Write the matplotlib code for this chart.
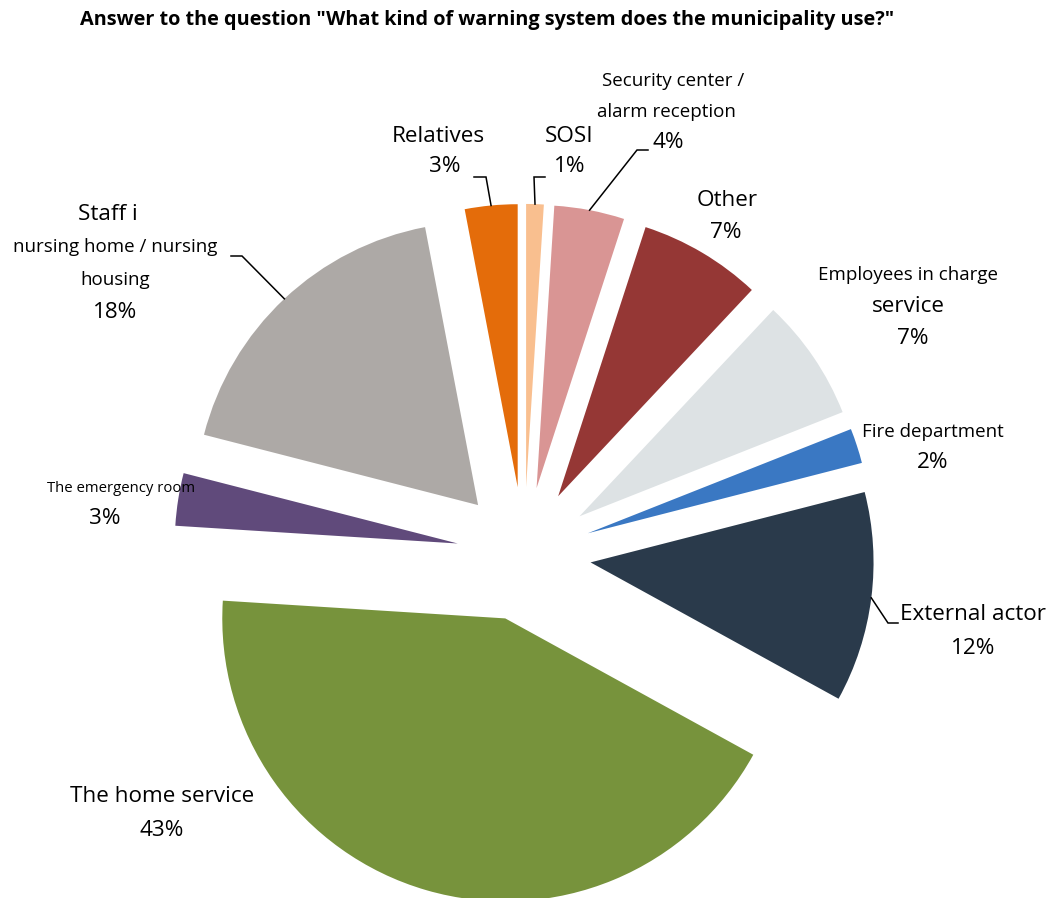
"""
Gráfico de tarta con sectores separados: tipo de sistema de alarma del municipio.
"""
import numpy as np
import matplotlib
matplotlib.use("Agg")
import matplotlib.pyplot as plt

# Datos
categorias = [
    "SOSI",
    "Security center / alarm reception",
    "Other",
    "Employees in charge service",
    "Fire department",
    "External actor",
    "The home service",
    "The emergency room",
    "Staff i nursing home / nursing housing",
    "Relatives",
]
porcentajes = [1, 4, 7, 7, 2, 12, 43, 3, 18, 3]
colores = ["#F9BF8F", "#D99594", "#953735", "#DDE2E4", "#3A78C3",
           "#2A3A4B", "#77933C", "#604A7B", "#ADA9A6", "#E46C0A"]

# Texto de cada etiqueta (el porcentaje se añade al final)
lineas = [
    ["SOSI"],
    ["Security center /", "alarm reception"],
    ["Other"],
    ["Employees in charge", "service"],
    ["Fire department"],
    ["External actor"],
    ["The home service"],
    ["The emergency room"],
    ["Staff i", "nursing home / nursing", "housing"],
    ["Relatives"],
]

titulo = 'Answer to the question "What kind of warning system does the municipality use?"'

# Maquetación (en píxeles de la figura)
W, H = 1049, 898
CX, CY, R = 524, 554, 283
SEPARACION = 0.237

GRANDE, MEDIA, PEQ = 16.2, 13.5, 10.7
tam_lineas = [
    [GRANDE, GRANDE],
    [MEDIA, MEDIA, GRANDE],
    [GRANDE, GRANDE],
    [MEDIA, GRANDE, GRANDE],
    [MEDIA, GRANDE],
    [GRANDE, GRANDE],
    [GRANDE, GRANDE],
    [PEQ, GRANDE],
    [GRANDE, MEDIA, MEDIA, GRANDE],
    [GRANDE, GRANDE],
]
pos_lineas = [
    [(569, 136), (570, 167)],
    [(673, 81), (666, 112), (668, 143)],
    [(727, 200), (726, 233)],
    [(908, 275), (908, 306), (913, 339)],
    [(933, 432), (933, 463)],
    [(973, 615), (973, 648)],
    [(162, 797), (162, 830)],
    [(121, 489), (105, 519)],
    [(108, 214), (115, 247), (115, 280), (115, 312)],
    [(438, 136), (445, 167)],
]
# Líneas guía: codo y extremo horizontal (None = sin guía)
guias = [
    [(534, 177), (545, 177)],
    [(637, 150), (648, 150)],
    None,
    None,
    None,
    [(888, 623), (898, 623)],
    None,
    None,
    [(242, 256), (231, 256)],
    [(486, 177), (474, 177)],
]


def px(x, y):
    """Píxel de la figura -> coordenadas de datos del eje."""
    return (x - CX) / R, (CY - y) / R


plt.rcParams["font.family"] = ["Open Sans", "DejaVu Sans"]

fig = plt.figure(figsize=(W / 100, H / 100), dpi=100)
ax = fig.add_axes([0, 0, 1, 1])

cunas, _ = ax.pie(
    porcentajes,
    colors=colores,
    startangle=90,
    counterclock=False,
    explode=[SEPARACION] * len(porcentajes),
    radius=1,
    wedgeprops=dict(linewidth=0),
)

ax.set_xlim(-CX / R, (W - CX) / R)
ax.set_ylim(-(H - CY) / R, CY / R)
ax.set_aspect("equal")
ax.axis("off")

for i, cuna in enumerate(cunas):
    textos = lineas[i] + [f"{porcentajes[i]}%"]
    for txt, tam, (x, y) in zip(textos, tam_lineas[i], pos_lineas[i]):
        ax.text(*px(x, y), txt, fontsize=tam, ha="center", va="center",
                color="#000000")
    if guias[i] is not None:
        # punto exterior del sector en su ángulo medio
        ang = np.deg2rad((cuna.theta1 + cuna.theta2) / 2)
        cx, cy = cuna.center
        x0, y0 = cx + cuna.r * np.cos(ang), cy + cuna.r * np.sin(ang)
        (x1, y1), (x2, y2) = px(*guias[i][0]), px(*guias[i][1])
        ax.plot([x0, x1, x2], [y0, y1, y2], color="black", lw=1.1,
                solid_joinstyle="miter")

fig.text(487 / W, 1 - 20 / H, titulo, ha="center", va="center",
         fontsize=14.3, fontweight="bold")

fig.savefig("out.png", dpi=100, facecolor="white")
